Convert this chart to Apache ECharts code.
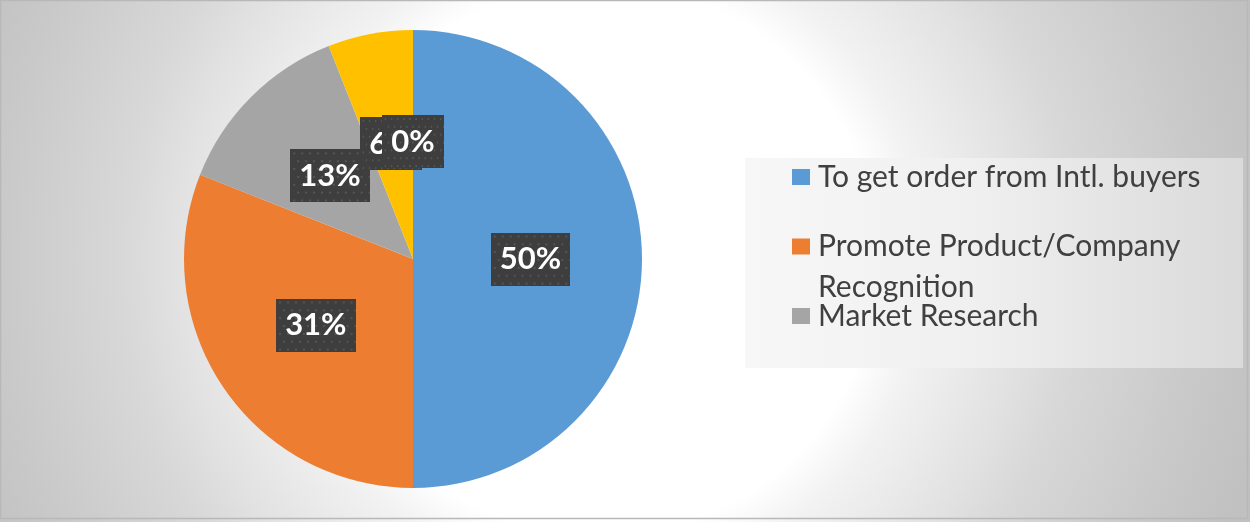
<!DOCTYPE html>
<html>
<head>
<meta charset="utf-8">
<script src="https://cdn.jsdelivr.net/npm/echarts@6/dist/echarts.min.js"></script>
<style>
  html, body { margin: 0; padding: 0; background: #ffffff; }
  #chart { width: 1250px; height: 522px; }
</style>
</head>
<body>
<div id="chart"></div>
<script>
// Purpose of exhibition participation, share of respondents (%)
const categories = [
  'To get order from Intl. buyers',
  'Promote Product/Company Recognition',
  'Market Research',
  'Other',
  'None'
];
const shares = [50, 31, 13, 6, 0];
const sliceColors = ['#5b9bd5', '#ed7d31', '#a5a5a5', '#ffc000', '#4472c4'];
// legend lists the first three purposes; the long one wraps onto two lines,
// with an empty spacer line on top so the swatch sits beside the first line
const legendLabels = [
  'To get order from Intl. buyers',
  '{pad| }\n{t|Promote Product/Company}\n{t|Recognition}',
  'Market Research'
];

// dark dotted tile used behind the percentage labels
function dotTile(w, h) {
  const c = document.createElement('canvas');
  c.width = w; c.height = h;
  const g = c.getContext('2d');
  g.fillStyle = '#3e3e3e';
  g.fillRect(0, 0, w, h);
  g.fillStyle = '#555555';
  let row = 0;
  for (let y = 3; y < h; y += 8, row++) {
    for (let x = (row % 2 ? 7 : 3); x < w; x += 8) g.fillRect(x, y, 2, 2);
  }
  return c;
}
const labelTile = dotTile(80, 54);

const chart = echarts.init(document.getElementById('chart'), null, { renderer: 'canvas' });

const pieData = categories.map((name, i) => ({
  name: name,
  value: shares[i],
  itemStyle: { color: sliceColors[i] }
}));

chart.setOption({
  animation: false,
  graphic: [
    {
      type: 'rect',
      z: -10,
      silent: true,
      shape: { x: 0, y: 0, width: 1250, height: 522 },
      style: {
        fill: {
          type: 'radial', x: 600, y: 260, r: 690, global: true,
          colorStops: [
            { offset: 0, color: '#ffffff' },
            { offset: 0.4, color: '#ffffff' },
            { offset: 0.47, color: '#f2f2f2' },
            { offset: 0.62, color: '#e1e1e1' },
            { offset: 0.69, color: '#d8d8d8' },
            { offset: 0.87, color: '#c9c9c9' },
            { offset: 1, color: '#c0c0c0' }
          ]
        }
      }
    },
    {
      type: 'rect',
      z: -9,
      silent: true,
      shape: { x: 0.5, y: 0.5, width: 1247, height: 518 },
      style: { fill: 'none', stroke: '#b8b8b8', lineWidth: 1.5 }
    },
    {
      type: 'rect',
      z: 1,
      silent: true,
      shape: { x: 745, y: 158, width: 498, height: 210 },
      style: {
        fill: {
          type: 'linear', x: 0, y: 0, x2: 1, y2: 0,
          colorStops: [
            { offset: 0, color: '#f7f7f7' },
            { offset: 0.45, color: '#f0f0f0' },
            { offset: 1, color: '#dadada' }
          ]
        }
      }
    }
  ],
  legend: {
    orient: 'vertical',
    left: 792,
    top: 162,
    padding: 0,
    itemGap: -7,
    itemWidth: 18,
    itemHeight: 16,
    icon: 'rect',
    selectedMode: false,
    data: categories.slice(0, 3),
    formatter: function (name) {
      return legendLabels[categories.indexOf(name)];
    },
    textStyle: {
      fontFamily: 'Lato',
      fontSize: 30,
      lineHeight: 16,
      color: '#404040',
      padding: [0, 0, 0, 3],
      rich: {
        pad: { fontSize: 10, lineHeight: 41 },
        t: { fontFamily: 'Lato', fontSize: 30, lineHeight: 41, color: '#404040' }
      }
    }
  },
  series: [
    {
      type: 'pie',
      center: [413, 259],
      radius: 229,
      startAngle: 90,
      clockwise: true,
      percentPrecision: 0,
      stillShowZeroSum: true,
      avoidLabelOverlap: false,
      minShowLabelAngle: 0,
      labelLayout: { hideOverlap: false },
      emphasis: { disabled: true },
      itemStyle: { borderWidth: 0 },
      labelLine: { show: false },
      label: {
        show: true,
        position: 'inside',
        formatter: '{d}%',
        color: '#ffffff',
        fontFamily: 'Lato',
        fontWeight: 'bold',
        fontSize: 31,
        lineHeight: 31,
        padding: [11, 9, 11, 9],
        backgroundColor: { image: labelTile },
        shadowBlur: 6,
        shadowOffsetX: 3,
        shadowOffsetY: 3,
        shadowColor: 'rgba(0,0,0,0.45)'
      },
      data: pieData
    }
  ]
});
</script>
</body>
</html>
